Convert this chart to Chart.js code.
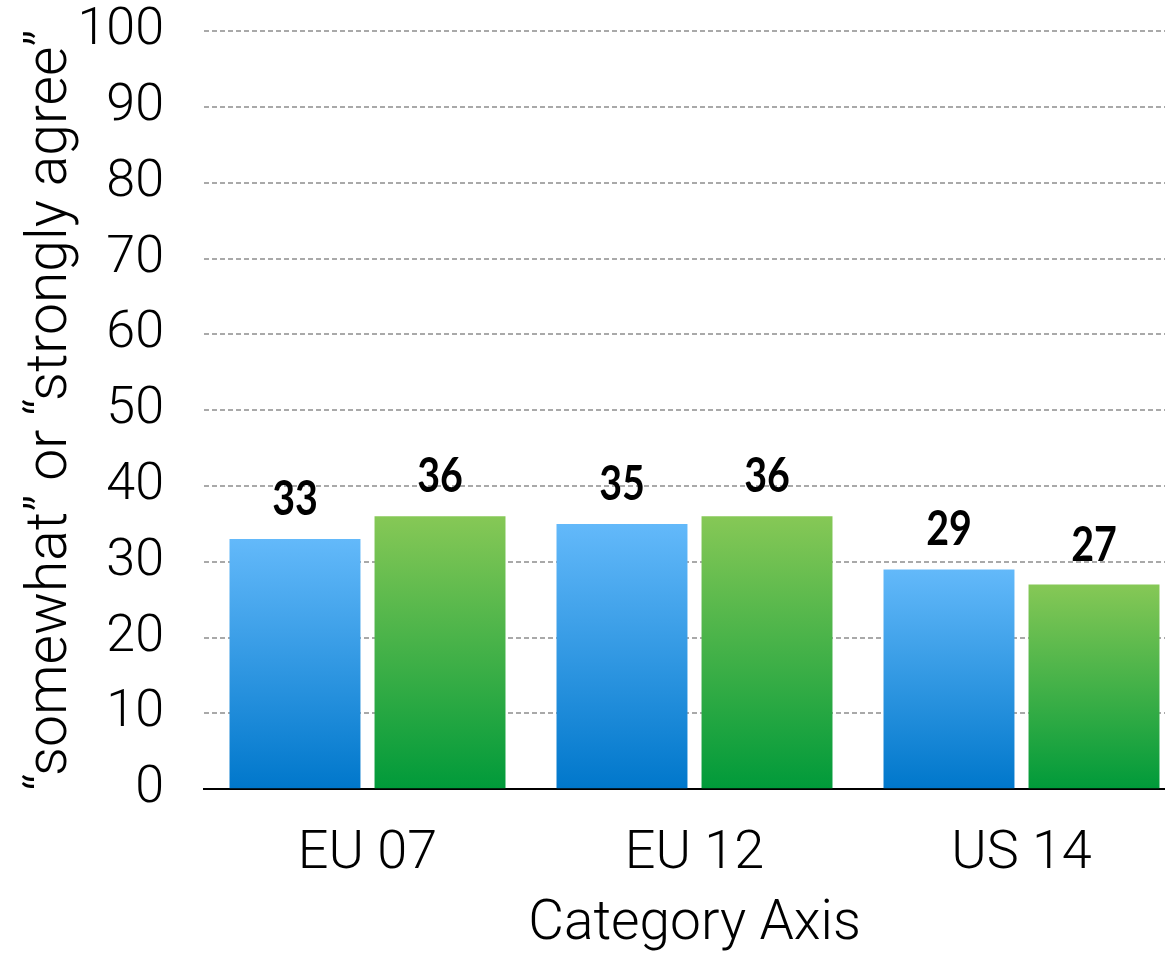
<!DOCTYPE html>
<html>
<head>
<meta charset="utf-8">
<script src="https://cdn.jsdelivr.net/npm/chart.js@4"></script>
<style>
  html, body { margin: 0; padding: 0; background: #fff; overflow: hidden; }
  #wrap { width: 1165px; height: 954px; overflow: hidden; }
</style>
</head>
<body>
<div id="wrap"><canvas id="c" width="1190" height="958"></canvas></div>
<script>
const categories = ['EU 07', 'EU 12', 'US 14'];
const seriesBlue = [33, 35, 29];
const seriesGreen = [36, 36, 27];
const yTitle = '\u201Csomewhat\u201D or \u201Cstrongly agree\u201D';
const xTitle = 'Category Axis';

const baseFont = 'Roboto, "Liberation Sans", sans-serif';

function gradientFill(top, bottom) {
  return function (ctx) {
    const chart = ctx.chart;
    if (!chart.chartArea || !ctx.parsed) return top;
    const ys = chart.scales.y;
    const yTop = ys.getPixelForValue(ctx.parsed.y);
    const yBot = ys.getPixelForValue(0);
    if (!isFinite(yTop) || !isFinite(yBot) || yTop === yBot) return top;
    const g = chart.ctx.createLinearGradient(0, yTop, 0, yBot);
    g.addColorStop(0, top);
    g.addColorStop(1, bottom);
    return g;
  };
}

const valueLabels = {
  id: 'valueLabels',
  afterDatasetsDraw(chart) {
    const ctx = chart.ctx;
    const sx = 0.82;
    chart.data.datasets.forEach((ds, di) => {
      const meta = chart.getDatasetMeta(di);
      meta.data.forEach((el, i) => {
        ctx.save();
        ctx.fillStyle = '#000';
        ctx.textAlign = 'center';
        ctx.textBaseline = 'alphabetic';
        ctx.font = 'bold 48px Lato, "Open Sans", sans-serif';
        ctx.translate(el.x, el.y - 24);
        ctx.scale(sx, 1);
        ctx.fillText(String(ds.data[i]), 0, 0);
        ctx.restore();
      });
    });
  }
};

new Chart(document.getElementById('c'), {
  type: 'bar',
  data: {
    labels: categories,
    datasets: [
      { data: seriesBlue, backgroundColor: gradientFill('#63b9fa', '#0077cb'),
        borderWidth: 0, categoryPercentage: 0.887, barPercentage: 0.903 },
      { data: seriesGreen, backgroundColor: gradientFill('#86c856', '#009a3a'),
        borderWidth: 0, categoryPercentage: 0.887, barPercentage: 0.903 }
    ]
  },
  options: {
    responsive: false,
    animation: false,
    events: [],
    layout: { padding: { left: 0, right: 5, top: 0, bottom: 0 } },
    plugins: { legend: { display: false }, tooltip: { enabled: false }, title: { display: false } },
    scales: {
      x: {
        grid: { display: true, drawOnChartArea: false, drawTicks: true, tickLength: 33,
                tickColor: 'rgba(0,0,0,0)', color: 'rgba(0,0,0,0)' },
        border: { display: true, color: '#000', width: 2 },
        ticks: { color: '#000', padding: 0, font: { family: baseFont, size: 54, weight: 300 } },
        title: { display: true, text: xTitle, color: '#000', padding: { top: 5, bottom: 0 },
                 font: { family: baseFont, size: 55, weight: 300 } }
      },
      y: {
        min: 0, max: 100,
        afterFit(scale) { scale.width = 204; },
        grid: {
          drawTicks: true,
          tickLength: 40,
          tickColor: 'rgba(0,0,0,0)',
          lineWidth: 2,
          color: (c) => (c.tick && c.tick.value === 0) ? 'rgba(0,0,0,0)' : '#a9a9a9'
        },
        border: { display: false, dash: [5, 3] },
        ticks: { stepSize: 10, color: '#000', padding: 0, font: { family: baseFont, size: 52, weight: 300 } },
        title: { display: true, text: yTitle, color: '#000', padding: { top: 18, bottom: 0 },
                 font: { family: baseFont, size: 57, weight: 300 } }
      }
    }
  },
  plugins: [valueLabels]
});
</script>
</body>
</html>
